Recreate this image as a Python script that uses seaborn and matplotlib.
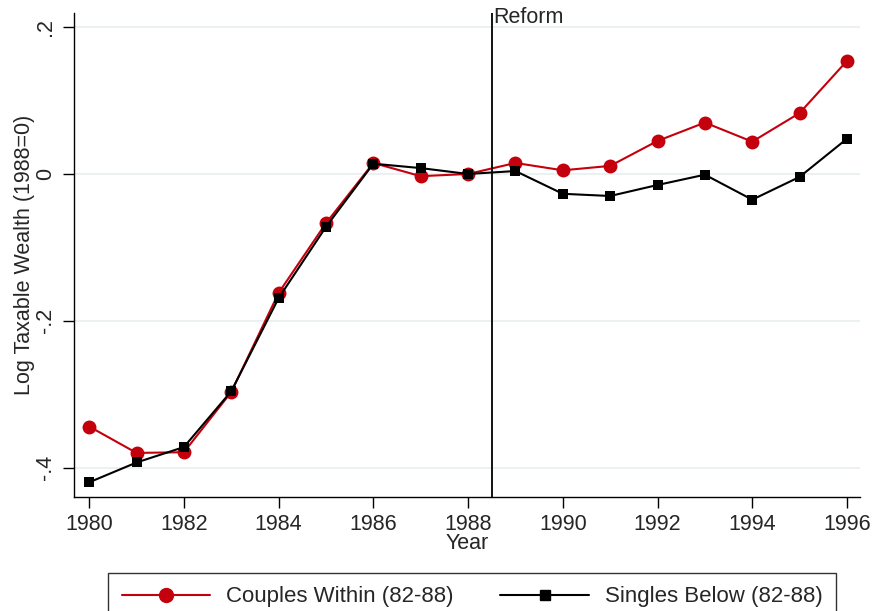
import matplotlib
matplotlib.use("Agg")
import matplotlib.pyplot as plt
import seaborn as sns
import pandas as pd

# === Data ===
years = list(range(1980, 1997))
couples_within = [-0.344, -0.380, -0.379, -0.297, -0.162, -0.067, 0.015, -0.003, 0.000,
                  0.015, 0.005, 0.011, 0.045, 0.070, 0.044, 0.083, 0.154]
singles_below = [-0.420, -0.393, -0.372, -0.296, -0.169, -0.072, 0.014, 0.008, 0.000,
                 0.004, -0.027, -0.030, -0.015, -0.001, -0.035, -0.004, 0.048]
series_names = ["Couples Within (82-88)", "Singles Below (82-88)"]
reform_year = 1988.5
y_ticks = [-0.4, -0.2, 0.0, 0.2]
y_tick_labels = ["-.4", "-.2", "0", ".2"]
x_ticks = list(range(1980, 1997, 2))

df = pd.DataFrame({"Year": years * 2,
                   "value": couples_within + singles_below,
                   "group": [series_names[0]] * len(years) + [series_names[1]] * len(years)})

# === Style ===
sns.set_style("white")
plt.rcParams["font.family"] = ["Liberation Sans", "DejaVu Sans"]
FS = 15.5
RED = "#c4000c"

fig = plt.figure(figsize=(8.74, 6.11), dpi=100)
ax = fig.add_axes([0.0847, 0.1866, 0.899, 0.7924])

sns.lineplot(data=df, x="Year", y="value", hue="group", style="group",
             palette={series_names[0]: RED, series_names[1]: "black"},
             markers={series_names[0]: "o", series_names[1]: "s"},
             dashes=False, linewidth=1.5, markeredgewidth=0, ax=ax, legend=False)
for line, ms in zip(ax.get_lines(), [10, 7.5]):
    line.set_markersize(ms)

ax.axvline(reform_year, color="black", linewidth=1.3)
ax.text(reform_year + 0.03, 0.228, "Reform", fontsize=FS, ha="left", va="top")

ax.set_xlim(1979.68, 1996.27)
ax.set_ylim(-0.440, 0.2195)
ax.set_xticks(x_ticks)
ax.set_yticks(y_ticks)
ax.set_yticklabels(y_tick_labels, rotation=90, va="center")
ax.tick_params(axis="both", labelsize=FS, direction="out", length=8, width=1,
               color="black", bottom=True, left=True, pad=5)
ax.tick_params(axis="x", pad=4)
ax.grid(axis="y", color="#e8eff1", linewidth=1.2)
ax.set_axisbelow(True)
for s in ["top", "right"]:
    ax.spines[s].set_visible(False)
for s in ["left", "bottom"]:
    ax.spines[s].set_color("black")
    ax.spines[s].set_linewidth(1)
ax.set_xlabel("Year", fontsize=FS, labelpad=-1)
ax.set_ylabel("Log Taxable Wealth (1988=0)", fontsize=FS, labelpad=0)

# legend in a box below the plot
handles = [plt.Line2D([], [], color=RED, marker="o", markersize=10, linewidth=1.5),
           plt.Line2D([], [], color="black", marker="s", markersize=7.5, linewidth=1.5)]
fig.legend(handles, series_names, loc="upper center", bbox_to_anchor=(0.54, 0.062),
           ncol=2, fontsize=FS + 0.5, frameon=True, fancybox=False, edgecolor="black",
           handlelength=4.0, handletextpad=0.7, columnspacing=2.1,
           borderpad=0.6, borderaxespad=0)

fig.savefig("out.png", dpi=100)
